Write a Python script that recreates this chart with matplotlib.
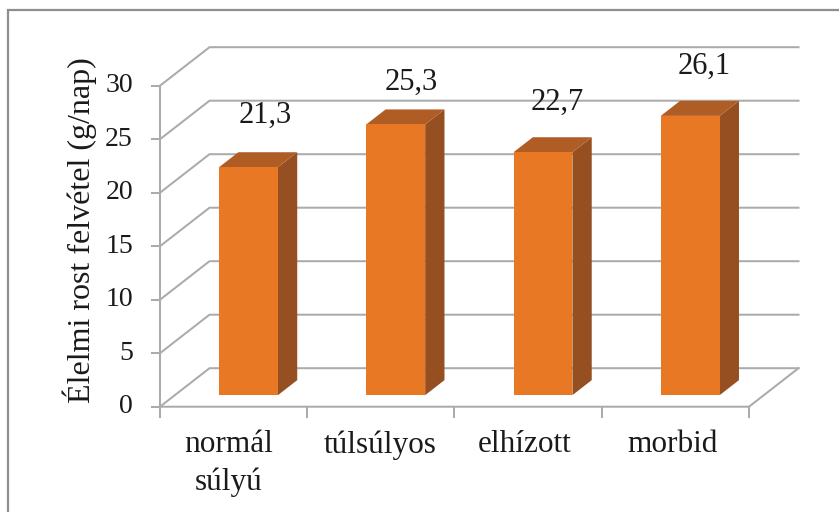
import matplotlib
matplotlib.use("Agg")
import matplotlib.pyplot as plt
from matplotlib.patches import Polygon, Rectangle

categories = ["normál\nsúlyú", "túlsúlyos", "elhízott", "morbid"]
values = [21.3, 25.3, 22.7, 26.1]
value_labels = ["21,3", "25,3", "22,7", "26,1"]
y_ticks = [0, 5, 10, 15, 20, 25, 30]
y_title = "Élelmi rost felvétel (g/nap)"
# hand placement of labels, in pixels
label_dx = [-3, -4, -5, -5]
label_dy = [0, -9, -2, -2]
cat_dx = [1, 5, 2, 3]

W, H = 839, 512
PX_X0, PX_X1 = 160.0, 749.0
PX_Y0, PX_Y30 = 406.7, 85.7
DX, DY = 49.5, 38.5
sx = (PX_X1 - PX_X0) / len(categories)
sy = (PX_Y0 - PX_Y30) / 30.0

plt.rcParams["font.family"] = ["Liberation Serif", "DejaVu Serif"]
fig = plt.figure(figsize=(W / 100, H / 100), dpi=100)
ax = fig.add_axes([0, 0, 1, 1])
ax.set_xlim(-PX_X0 / sx, (W - PX_X0) / sx)
ax.set_ylim((PX_Y0 - H) / sy, PX_Y0 / sy)
ax.axis("off")

def P(x, y, d=0.0):
    return (x + d * DX / sx, y + d * DY / sy)

GRID = "#ababab"
LW = 1.45
TXT = "#1a1a1a"
n = len(categories)
# frame
fx = 8 / sx + ax.get_xlim()[0]
fy = ax.get_ylim()[1] - 10 / sy
ax.plot([fx, fx, ax.get_xlim()[1]], [ax.get_ylim()[0], fy, fy], color="#8e8e8e", lw=1.6,
        solid_joinstyle="miter", zorder=1)
# gridlines
for t in y_ticks:
    a, b, c = P(0, t), P(0, t, 1), P(n, t, 1)
    ax.plot([a[0], b[0], c[0]], [a[1], b[1], c[1]], color=GRID, lw=LW, zorder=2)
    ax.plot([-8 / sx, 0], [t, t], color=GRID, lw=LW, zorder=2)
    ax.text(-27 / sx, t, str(t), ha="right", va="center", fontsize=20, color=TXT)
# floor and axis
a, b = P(n, 0), P(n, 0, 1)
ax.plot([0, n, b[0]], [0, 0, b[1]], color=GRID, lw=LW, zorder=2)
ax.plot([0, 0], [-10 / sy, 30], color=GRID, lw=LW, zorder=2)
for i in range(n + 1):
    ax.plot([i, i], [0, -10 / sy], color=GRID, lw=LW, zorder=2)
# bars
d0, d1 = 0.30, 0.69
width = 0.40
for i, (v, vl, cat) in enumerate(zip(values, value_labels, categories)):
    xl, xr = i + 0.5 - width / 2, i + 0.5 + width / 2
    ax.add_patch(Polygon([P(xr, 0, d0), P(xr, 0, d1), P(xr, v, d1), P(xr, v, d0)],
                         fc="#964f20", ec="none", zorder=3))
    ax.add_patch(Polygon([P(xl, v, d0), P(xr, v, d0), P(xr, v, d1), P(xl, v, d1)],
                         fc="#b05c25", ec="none", zorder=3))
    fl, fb = P(xl, 0, d0)
    fr, ft = P(xr, v, d0)
    ax.add_patch(Rectangle((fl, fb), fr - fl, ft - fb, fc="#e97824", ec="none", zorder=4))
    tx, ty = P(i + 0.5, v, d1)
    ax.annotate(vl, (tx, ty), xytext=(label_dx[i] * 0.72, (36.5 + label_dy[i]) * 0.72),
                textcoords="offset points", ha="center", va="center", fontsize=22,
                color=TXT, zorder=5)
    ax.text(i + 0.46 + cat_dx[i] / sx, -(430 - PX_Y0) / sy, cat, ha="center", va="top",
            fontsize=22.5, color=TXT, linespacing=1.38)
ax.text(-80 / sx, (PX_Y0 - 230) / sy, y_title, rotation=90, ha="center", va="center",
        fontsize=23, color=TXT)
fig.savefig("out.png", dpi=100)
